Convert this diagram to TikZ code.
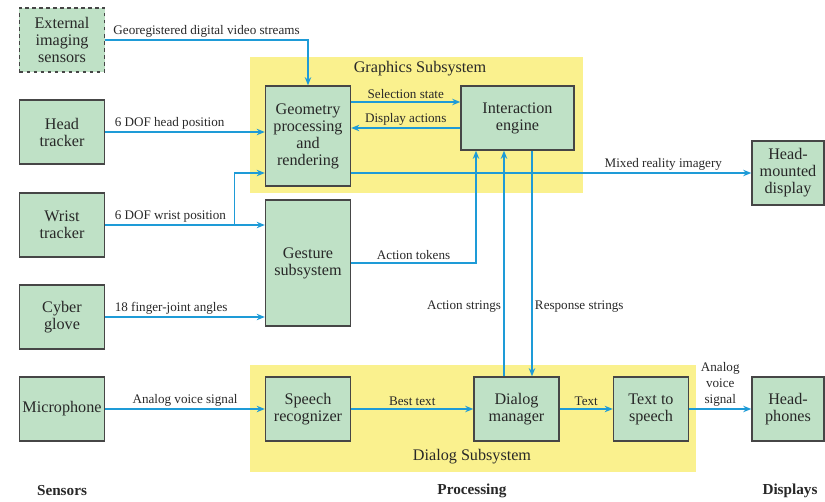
\documentclass[tikz,border=0pt]{standalone}
\usepackage{fontspec}
\setmainfont{Liberation Serif}
\usetikzlibrary{arrows.meta, positioning}
\definecolor{boxgreen}{RGB}{191,225,198}
\definecolor{boxedge}{RGB}{70,70,70}
\definecolor{subsys}{RGB}{250,241,142}
\definecolor{flowcol}{RGB}{30,155,215}
\definecolor{textcol}{RGB}{40,40,40}

\begin{document}
\begin{tikzpicture}[x=0.03cm, y=-0.03cm, text=textcol,
    unit/.style={draw=boxedge, fill=boxgreen, line width=1.1pt, align=center,
                 font=\fontsize{13.8}{14.5}\selectfont, inner sep=2pt,
                 minimum width=2.55cm, minimum height=1.92cm},
    flow/.style={flowcol, line width=1.1pt, -{Stealth[length=7pt,width=5.5pt]}},
    lbl/.style={text=textcol, font=\fontsize{11.2}{13.5}\selectfont, inner sep=2pt},
    lblstart/.style={lbl, pos=0, anchor=south west, xshift=0.2cm},
    colhead/.style={font=\bfseries\fontsize{13}{15}\selectfont}]
  \useasboundingbox (0,0) rectangle (825,501);

  % subsystem panels
  \fill[subsys] (250,57) rectangle (583,193);
  \fill[subsys] (250,365) rectangle (696,472);
  \node[font=\fontsize{13.8}{15}\selectfont] (gfxname) at (420,69) {Graphics Subsystem};
  \node[font=\fontsize{13.8}{15}\selectfont] (dlgname) at (472,457) {Dialog Subsystem};

  % sensors
  \node[unit, dashed] (ext) at (62,40) {External\\imaging\\sensors};
  \node[unit] (headtrk) at (62,132) {Head\\tracker};
  \node[unit] (wristtrk) at (62,225) {Wrist\\tracker};
  \node[unit] (glove) at (62,317) {Cyber\\glove};
  \node[unit] (mic) at (62,409) {Microphone};

  % processing
  \node[unit, minimum height=3cm] (geom) at (308,136) {Geometry\\processing\\and\\rendering};
  \node[unit, minimum width=3.39cm] (inter) at (517.5,118) {Interaction\\engine};
  \node[unit, minimum height=3.78cm] (gest) at (308,263) {Gesture\\subsystem};
  \node[unit] (speech) at (308,409) {Speech\\recognizer};
  \node[unit] (dialog) at (516.5,409) {Dialog\\manager};
  \node[unit, minimum width=2.25cm] (tts) at (651,409) {Text to\\speech};

  % displays
  \node[unit, minimum width=2.16cm] (hmd) at (788,173) {Head-\\mounted\\display};
  \node[unit, minimum width=2.16cm] (phones) at (788,409) {Head-\\phones};

  % column heads
  \node[colhead] (sens) at (62,491) {Sensors};
  \node[colhead] (proc) at (472,491) {Processing};
  \node[colhead] (disp) at (790,491) {Displays};

  % sensor inputs
  \draw[flow] (ext.east) -| node[lbl, above, pos=0.25] {Georegistered digital video streams} (geom.north);
  \draw[flow] (headtrk.east) -- node[lblstart] {6 DOF head position} (headtrk.east -| geom.west);
  \draw[flow] (wristtrk.east) -- node[lblstart] {6 DOF wrist position} (wristtrk.east -| gest.west);
  \path (wristtrk.east) ++(129,0) coordinate (wsplit);
  \draw[flow] (wsplit) |- (geom.west |- hmd.west);
  \draw[flow] (glove.east) -- node[lblstart] {18 finger-joint angles} (glove.east -| gest.west);
  \draw[flow] (mic.east) -- node[lbl, above] {Analog voice signal} (speech.west);

  % graphics subsystem
  \coordinate (selin) at ([yshift=0.48cm]inter.west);
  \coordinate (dispout) at ([yshift=-0.3cm]inter.west);
  \draw[flow] (selin -| geom.east) -- node[lbl, above] {Selection state} (selin);
  \draw[flow] (dispout) -- node[lbl, above] {Display actions} (dispout -| geom.east);
  \draw[flow] (geom.east |- hmd.west) -- node[lbl, above, pos=0.78] {Mixed reality imagery} (hmd.west);
  \draw[flow] (gest.east) -| node[lbl, above, pos=0.25] {Action tokens} ([xshift=-1.245cm]inter.south);

  % dialog subsystem
  \coordinate (actup) at ([xshift=-0.375cm]dialog.north);
  \coordinate (rspdn) at ([xshift=0.465cm]dialog.north);
  \draw[flow] (actup) -- node[lbl, left, pos=0.31] {Action strings} (actup |- inter.south);
  \draw[flow] (rspdn |- inter.south) -- node[lbl, right, pos=0.69] {Response strings} (rspdn);
  \draw[flow] (speech.east) -- node[lbl, above] {Best text} (dialog.west);
  \draw[flow] (dialog.east) -- node[lbl, above] {Text} (tts.west);
  \draw[flow] (tts.east) -- node[lbl, above, align=center] {Analog\\voice\\signal} (phones.west);
\end{tikzpicture}
\end{document}
